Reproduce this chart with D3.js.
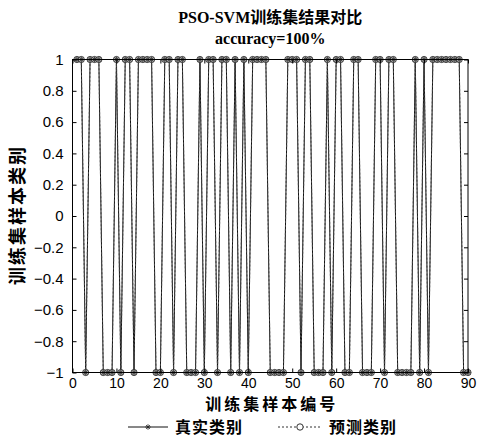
<!DOCTYPE html>
<meta charset="utf-8">
<html>
<head>
<style>
  body { margin: 0; background: #fff; }
  svg text { fill: #000; }
</style>
</head>
<body>
<div id="chart"></div>
<script src="https://d3js.org/d3.v7.min.js"></script>
<script>

// training samples 1..90, class labels
var trueClass = [1,1,-1,1,1,1,-1,-1,-1,1,
                 -1,1,1,-1,1,1,1,1,-1,-1,
                 1,1,-1,1,1,-1,-1,-1,1,-1,
                 1,1,-1,1,1,-1,1,-1,1,-1,
                 1,1,1,1,-1,-1,-1,-1,1,1,
                 1,-1,1,1,-1,-1,-1,1,-1,1,
                 1,-1,-1,1,1,-1,-1,-1,1,1,
                 -1,1,1,-1,-1,-1,-1,1,-1,1,
                 -1,1,1,1,1,1,1,1,-1,-1];
var predClass = [1,1,-1,1,1,1,-1,-1,-1,1,
                 -1,1,1,-1,1,1,1,1,-1,-1,
                 1,1,-1,1,1,-1,-1,-1,1,-1,
                 1,1,-1,1,1,-1,1,-1,1,-1,
                 1,1,1,1,-1,-1,-1,-1,1,1,
                 1,-1,1,1,-1,-1,-1,1,-1,1,
                 1,-1,-1,1,1,-1,-1,-1,1,1,
                 -1,1,1,-1,-1,-1,-1,1,-1,1,
                 -1,1,1,1,1,1,1,1,-1,-1];
var xTicks = [0,10,20,30,40,50,60,70,80,90];
var yTicks = [1,0.8,0.6,0.4,0.2,0,-0.2,-0.4,-0.6,-0.8,-1];
var titleLines = ["PSO-SVM训练集结果对比", "accuracy=100%"];
var xLabel = "训练集样本编号";
var yLabel = "训练集样本类别";
var seriesNames = ["真实类别", "预测类别"];

var W = 487, H = 439;
var margin = {top: 59.5, right: 19, bottom: 66.5, left: 72.5},
    width = W - margin.left - margin.right,
    height = H - margin.top - margin.bottom;

var svg = d3.select("#chart").append("svg")
    .attr("width", W)
    .attr("height", H)
    .style("font-family", "'Liberation Sans', Arial, sans-serif");

var g = svg.append("g")
    .attr("transform", "translate(" + margin.left + "," + margin.top + ")");

var x = d3.scaleLinear().domain([0, 90]).range([0, width]);
var y = d3.scaleLinear().domain([-1, 1]).range([height, 0]);

// series
var trueData = trueClass.map(function(v, i) { return {x: i + 1, y: v}; });
var predData = predClass.map(function(v, i) { return {x: i + 1, y: v}; });

var line = d3.line().x(function(d) { return x(d.x); }).y(function(d) { return y(d.y); });

g.append("path").datum(trueData)
  .attr("d", line)
  .attr("fill", "none")
  .attr("stroke", "#111")
  .attr("stroke-width", 1);

g.append("path").datum(predData)
  .attr("d", line)
  .attr("fill", "none")
  .attr("stroke", "#444")
  .attr("stroke-width", 1)
  .attr("stroke-dasharray", "2,2");

function star(sel, r) {
  sel.append("path")
    .attr("d", "M" + (-r) + ",0H" + r + "M0," + (-r) + "V" + r +
               "M" + (-r*0.7) + "," + (-r*0.7) + "L" + (r*0.7) + "," + (r*0.7) +
               "M" + (-r*0.7) + "," + (r*0.7) + "L" + (r*0.7) + "," + (-r*0.7))
    .attr("stroke", "#222")
    .attr("stroke-width", 0.8)
    .attr("fill", "none");
}

g.append("g").selectAll("circle")
  .data(predData).enter().append("circle")
    .attr("cx", function(d) { return x(d.x); })
    .attr("cy", function(d) { return y(d.y); })
    .attr("r", 3.1)
    .attr("fill", "#bbb")
    .attr("stroke", "#333")
    .attr("stroke-width", 0.9);

g.append("g").selectAll("g")
  .data(trueData).enter().append("g")
    .attr("transform", function(d) { return "translate(" + x(d.x) + "," + y(d.y) + ")"; })
    .call(star, 2.7);

// axes box with inward ticks
g.append("g")
  .attr("transform", "translate(0," + height + ")")
  .call(d3.axisBottom(x).tickValues(xTicks).tickSizeInner(-4).tickSizeOuter(0).tickPadding(6))
  .call(function(a) { a.select(".domain").remove(); })
  .selectAll("text").style("font-size", "14px");

g.append("g")
  .call(d3.axisTop(x).tickValues(xTicks).tickSizeInner(-4).tickSizeOuter(0).tickFormat(""))
  .call(function(a) { a.select(".domain").remove(); });

g.append("g")
  .call(d3.axisLeft(y).tickValues(yTicks).tickSizeInner(-4).tickSizeOuter(0).tickPadding(9)
    .tickFormat(function(d) { return d3.format("")(+d.toFixed(1)); }))
  .call(function(a) { a.select(".domain").remove(); })
  .selectAll("text").style("font-size", "15px");

g.append("g")
  .attr("transform", "translate(" + width + ",0)")
  .call(d3.axisRight(y).tickValues(yTicks).tickSizeInner(-4).tickSizeOuter(0).tickFormat(""))
  .call(function(a) { a.select(".domain").remove(); });

g.append("rect")
  .attr("width", width)
  .attr("height", height)
  .attr("fill", "none")
  .attr("stroke", "#000")
  .attr("stroke-width", 1);

g.selectAll(".tick line").attr("stroke", "#000");
g.selectAll(".tick text").attr("fill", "#000");

// title
svg.append("text")
  .attr("x", margin.left + width / 2)
  .attr("y", 23)
  .attr("text-anchor", "middle")
  .style("font-family", "'Liberation Serif', 'Noto Sans CJK SC', serif")
  .style("font-weight", "bold")
  .style("font-size", "16px")
  .text(titleLines[0]);

svg.append("text")
  .attr("x", margin.left + width / 2)
  .attr("y", 44)
  .attr("text-anchor", "middle")
  .style("font-family", "'Liberation Serif', serif")
  .style("font-weight", "bold")
  .style("font-size", "16px")
  .text(titleLines[1]);

// axis labels
svg.append("text")
  .attr("x", margin.left + width / 2 + 1.5)
  .attr("y", 410)
  .attr("text-anchor", "middle")
  .style("font-family", "'Noto Sans CJK SC', sans-serif")
  .style("font-weight", "bold")
  .style("font-size", "16px")
  .style("letter-spacing", "3px")
  .text(xLabel);

svg.append("text")
  .attr("transform", "rotate(-90)")
  .attr("x", -(margin.top + height / 2) + 1)
  .attr("y", 24)
  .attr("text-anchor", "middle")
  .style("font-family", "'Noto Sans CJK SC', sans-serif")
  .style("font-weight", "bold")
  .style("font-size", "18px")
  .style("letter-spacing", "2px")
  .text(yLabel);

// legend
var lg = svg.append("g").attr("transform", "translate(0,427)");

lg.append("line")
  .attr("x1", 128).attr("x2", 168).attr("y1", 0).attr("y2", 0)
  .attr("stroke", "#111").attr("stroke-width", 1);
lg.append("g").attr("transform", "translate(148,0)").call(star, 2.8);
lg.append("text")
  .attr("x", 175).attr("y", 6)
  .style("font-family", "'Noto Sans CJK SC', sans-serif")
  .style("font-weight", "bold")
  .style("font-size", "16px")
  .style("letter-spacing", "1px")
  .text(seriesNames[0]);

lg.append("line")
  .attr("x1", 278).attr("x2", 322).attr("y1", 0).attr("y2", 0)
  .attr("stroke", "#333").attr("stroke-width", 1)
  .attr("stroke-dasharray", "2,2");
lg.append("circle")
  .attr("cx", 300).attr("cy", 0).attr("r", 3.2)
  .attr("fill", "#fff").attr("stroke", "#333").attr("stroke-width", 1);
lg.append("text")
  .attr("x", 329).attr("y", 6)
  .style("font-family", "'Noto Sans CJK SC', sans-serif")
  .style("font-weight", "bold")
  .style("font-size", "16px")
  .style("letter-spacing", "1px")
  .text(seriesNames[1]);

</script>
</body>
</html>
